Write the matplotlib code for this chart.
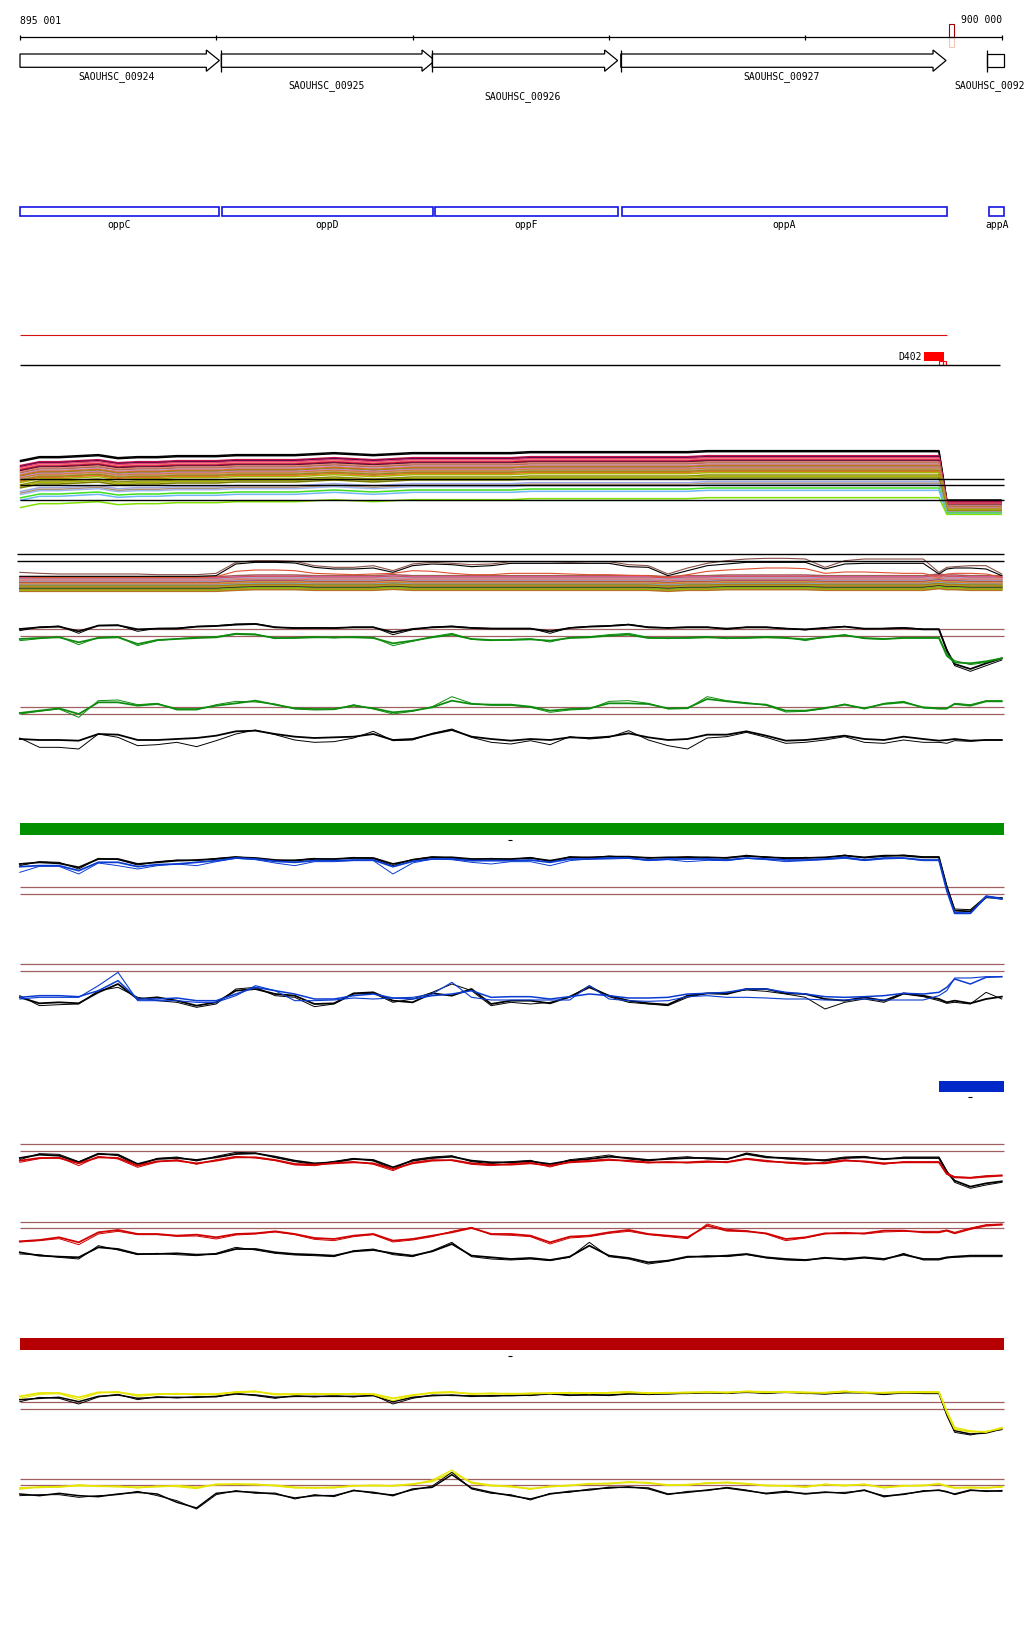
import numpy as np
import matplotlib.pyplot as plt
from matplotlib.patches import Rectangle, Polygon

W, H = 1024, 1640

# genomic window 895 001 - 900 000
VIEW_START, VIEW_END = 895001, 900010
BP_PER_PX = 5000 / 982
XLIM = (VIEW_START - 20 * BP_PER_PX, VIEW_START + 1004 * BP_PER_PX)

RULER_TICKS = [895001, 896000, 897000, 898000, 899000, 900000]
RULER_LEFT, RULER_RIGHT = '895 001', '900 000'
RULER_MARK = (899731, 899755)

GENE_NAMES = ['SAOUHSC_00924', 'SAOUHSC_00925', 'SAOUHSC_00926', 'SAOUHSC_00927', 'SAOUHSC_00928']
GENE_START = [895001, 896026, 897100, 898060, 899926]
GENE_END = [896016, 897114, 898044, 899716, 900010]
GENE_LABEL_X = [895495, 896560, 897560, 898880, 899757]

OPP_NAMES = ['oppC', 'oppD', 'oppF', 'oppA', 'appA']
OPP_START = [895002, 896027, 897112, 898064, 899937]
OPP_END = [896014, 897102, 898044, 899721, 900011]

D402_LABEL = 'D402'
D402_BOX = (899604, 899706)
D402_SMALL = [(899682, 899699), (899699, 899717)]
RED_LINE_END = 899720

# sampling positions of the profiles (bp)
POS = np.array([895000 + 100 * i for i in range(47)] +
               [899680, 899720, 899760, 899840, 899920, 900000])

# ---- bundle 1 (many samples) ----
B1_COLORS = ['#000000', '#000000', '#c8104a', '#5a0a40', '#e8407a', '#f07060', '#c8104a',
             '#4a1030', '#f08878', '#b07050', '#c890c8', '#e06a20', '#8a8a10', '#d080d0',
             '#d07830', '#c8a070', '#8c8c18', '#e07028', '#a8b400', '#8a8a10', '#a8b400',
             '#7a7a00', '#98a8e8', '#b09070', '#a0b8f0', '#40e020', '#70b8f8', '#80e000']
B1_PRE = [193, 190, 178, 175, 172, 168, 165, 162, 159, 156, 152, 149, 146, 143, 140, 137,
          134, 131, 127, 120, 116, 111, 100, 95, 91, 81, 74, 52]
B1_POST = [63, 60, 58, 55, 54, 52, 50, 49, 47, 46, 44, 42, 41, 40, 38, 37, 35, 34, 33, 31,
           30, 29, 27, 26, 25, 24, 22, 20]
B1_TREND = [-12, 0, 0, 3, 6, -3, 0, 0, 3, 3, 3, 6, 6, 6, 6, 9, 12, 9, 6, 9,
            12, 12, 12, 12, 12, 12, 15, 15, 15, 15, 15, 15, 15, 15, 15,
            18, 18, 18, 18, 18, 18, 18, 18, 18, 18, 18, 18,
            18, 18, 18, 18, 18, 18]
B1_HLINES = [125, 108, 62]

# ---- bundle 2 ----
B2_COLORS = ['#a06050', '#e040a0', '#d05040', '#98b0e8', '#f08070', '#c890c8', '#e07030',
             '#8ab0f0', '#c02050', '#a8a820', '#e88868', '#d07020', '#70b8f0', '#8a8a10',
             '#c06830', '#a0c000', '#b07840', '#201020', '#50d020', '#d07030', '#80e000',
             '#b87028']
B2_LEVELS = [52, 48, 46, 44, 42, 40, 38, 36, 34, 32, 30, 28, 26, 24, 22, 20, 18, 16, 14,
             12, 10, 8]
B2_TREND = [0, 0, 0, 0, 0, 0, 0, 0, 0, 0, 0, 3, 5, 5, 5, 3, 3, 3, 3, 6,
            3, 3, 3, 3, 3, 3, 3, 3, 3, 3, 3, 3, 3, 0, 3, 3, 5, 5, 5, 5,
            5, 3, 3, 3, 3, 3, 3, 8, 5, 5, 3, 3, 3]
B2_BLACK = [53, 53, 53, 53, 53, 53, 53, 53, 53, 53, 55, 90, 95, 95, 93, 80, 75, 75, 78, 65,
            85, 90, 88, 82, 85, 92, 92, 92, 92, 92, 92, 82, 80, 55, 70, 85, 90, 95, 95, 95,
            95, 75, 90, 92, 92, 92, 92, 60, 75, 78, 78, 75, 55]
B2_BROWN = [65, 62, 60, 60, 60, 60, 60, 58, 58, 58, 62, 95, 100, 100, 98, 85, 80, 80, 85, 70,
            90, 95, 92, 88, 90, 97, 97, 97, 95, 97, 97, 88, 85, 60, 78, 92, 100, 105, 107, 107,
            105, 80, 100, 105, 105, 105, 105, 65, 80, 82, 85, 85, 60]
B2_ORANGE = [52, 50, 50, 50, 50, 50, 50, 50, 50, 50, 52, 68, 72, 72, 70, 62, 60, 58, 60, 62,
             70, 68, 62, 58, 58, 62, 62, 62, 60, 58, 58, 56, 55, 50, 58, 68, 72, 75, 78, 78,
             76, 62, 66, 66, 64, 62, 62, 50, 60, 62, 62, 60, 50]
B2_HLINES = [119, 99]

# ---- green / black pair ----
G1_BLACK = [135, 140, 142, 128, 145, 146, 134, 136, 136, 142, 144, 148, 150, 140, 138, 138, 138, 140, 140, 125,
            135, 140, 142, 138, 136, 136, 136, 128, 138, 142, 144, 148, 140, 138, 140, 140, 136, 140, 140, 136,
            134, 138, 142, 136, 136, 138, 134, 134, 70, 30, 15, 32, 47]
G1_BLACK2 = [130, 141, 144, 122, 146, 147, 128, 137, 138, 143, 145, 150, 151, 141, 137, 139, 137, 141, 141, 118,
             133, 141, 144, 139, 137, 137, 137, 122, 139, 143, 145, 149, 141, 139, 141, 141, 134, 141, 141, 137,
             132, 139, 143, 135, 137, 139, 135, 135, 75, 25, 8, 25, 42]
G1_GREEN = [105, 108, 110, 95, 108, 110, 90, 102, 105, 108, 110, 120, 118, 108, 108, 110, 110, 110, 108, 92,
            100, 110, 118, 105, 102, 102, 104, 100, 108, 110, 115, 118, 108, 108, 108, 110, 108, 108, 110, 108,
            104, 110, 116, 108, 105, 108, 108, 108, 55, 35, 32, 38, 47]
G1_GREEN2 = [100, 106, 112, 88, 110, 112, 85, 100, 106, 110, 112, 122, 120, 106, 110, 112, 108, 112, 110, 85,
             98, 112, 122, 104, 100, 104, 106, 96, 110, 112, 118, 122, 110, 106, 110, 112, 106, 110, 112, 110,
             100, 112, 118, 106, 104, 110, 110, 110, 60, 40, 28, 35, 47]
G1_THR = [135, 113]

G2_GREEN = [123, 130, 137, 120, 155, 155, 145, 150, 135, 135, 145, 152, 160, 148, 137, 135, 135, 145, 137, 125,
            130, 140, 160, 150, 148, 148, 142, 130, 135, 137, 152, 152, 150, 137, 138, 165, 158, 152, 148, 130,
            130, 138, 148, 137, 150, 155, 140, 137, 137, 150, 145, 158, 158]
G2_GREEN2 = [120, 128, 135, 110, 160, 162, 148, 152, 132, 132, 148, 158, 156, 150, 135, 132, 133, 148, 135, 120,
             128, 142, 172, 152, 146, 146, 140, 125, 132, 135, 158, 160, 152, 135, 136, 172, 160, 154, 146, 126,
             128, 136, 150, 135, 152, 158, 138, 135, 135, 152, 148, 160, 160]
G2_BLACK = [45, 42, 42, 40, 60, 58, 42, 42, 45, 48, 55, 68, 70, 60, 52, 48, 50, 52, 60, 42,
            45, 60, 72, 52, 45, 40, 45, 42, 50, 48, 52, 62, 50, 42, 45, 58, 58, 68, 55, 40,
            42, 48, 55, 45, 42, 52, 45, 40, 42, 45, 40, 42, 42]
G2_BLACK2 = [48, 20, 20, 15, 60, 50, 25, 28, 35, 22, 40, 60, 72, 58, 42, 35, 37, 48, 68, 40,
             42, 62, 75, 50, 35, 30, 40, 28, 52, 45, 50, 70, 42, 25, 15, 48, 52, 65, 50, 32,
             35, 42, 52, 35, 32, 42, 35, 35, 32, 40, 38, 42, 42]
G2_THR = [140, 120]

# ---- blue / black pair ----
U1_BLACK = [165, 170, 167, 155, 180, 180, 165, 170, 175, 177, 180, 185, 183, 177, 175, 180, 180, 183, 183, 165,
            177, 185, 185, 180, 180, 180, 183, 175, 185, 185, 187, 187, 183, 185, 185, 185, 183, 190, 185, 183,
            183, 185, 190, 185, 190, 190, 185, 185, 95, 25, 23, 65, 63]
U1_BLACK2 = [160, 172, 170, 150, 182, 178, 162, 172, 177, 175, 182, 187, 181, 175, 177, 182, 178, 185, 181, 160,
             179, 187, 183, 178, 182, 178, 185, 172, 187, 183, 189, 185, 185, 183, 187, 183, 185, 188, 187, 181,
             185, 183, 192, 183, 188, 192, 187, 187, 100, 30, 28, 68, 60]
U1_BLUE = [157, 160, 160, 145, 170, 170, 157, 163, 165, 170, 175, 183, 180, 173, 170, 175, 175, 177, 177, 157,
           173, 180, 180, 175, 175, 175, 177, 170, 180, 180, 183, 183, 177, 180, 180, 180, 177, 183, 180, 177,
           177, 180, 185, 177, 183, 183, 177, 177, 85, 17, 17, 67, 60]
U1_BLUE2 = [140, 158, 158, 135, 168, 160, 150, 160, 165, 160, 172, 182, 178, 168, 160, 172, 172, 175, 175, 135,
            168, 180, 178, 170, 165, 172, 172, 160, 175, 180, 180, 182, 175, 178, 172, 176, 175, 182, 178, 172,
            175, 178, 182, 175, 180, 182, 175, 175, 90, 20, 18, 70, 62]
U1_THR = [96, 74]

U2_BLACK = [65, 47, 50, 47, 80, 105, 60, 65, 55, 40, 50, 85, 90, 75, 70, 45, 47, 77, 80, 55,
            50, 77, 70, 90, 45, 55, 55, 47, 67, 95, 70, 55, 47, 43, 70, 77, 75, 90, 90, 77,
            75, 60, 55, 65, 55, 77, 70, 60, 50, 55, 47, 60, 67]
U2_BLACK2 = [70, 40, 43, 45, 85, 95, 65, 55, 50, 35, 45, 90, 95, 70, 65, 37, 45, 75, 77, 50,
             60, 80, 105, 85, 40, 50, 45, 50, 65, 100, 67, 50, 45, 40, 65, 77, 80, 87, 83, 75,
             65, 30, 50, 60, 50, 75, 67, 55, 47, 50, 45, 80, 60]
U2_BLUE = [65, 70, 70, 67, 85, 115, 60, 60, 63, 55, 55, 75, 95, 85, 75, 60, 60, 70, 75, 63,
           60, 70, 75, 85, 65, 67, 67, 60, 67, 75, 70, 63, 63, 65, 75, 77, 80, 90, 90, 80,
           75, 67, 65, 67, 70, 77, 75, 80, 95, 120, 105, 125, 127]
U2_BLUE2 = [60, 65, 65, 65, 100, 140, 55, 55, 55, 50, 50, 70, 100, 85, 55, 55, 57, 63, 60, 63,
            65, 75, 110, 65, 57, 57, 57, 57, 57, 100, 60, 55, 53, 55, 67, 70, 65, 65, 63, 60,
            60, 57, 57, 60, 57, 57, 57, 70, 85, 123, 123, 127, 127]
U2_THR = [164, 144]

# ---- red / black pair ----
R1_BLACK = [123, 133, 130, 110, 135, 133, 105, 120, 123, 117, 125, 135, 137, 127, 115, 107, 110, 120, 117, 95,
            115, 123, 127, 115, 110, 110, 113, 105, 115, 120, 127, 123, 117, 120, 123, 123, 120, 135, 125, 123,
            120, 115, 123, 125, 120, 123, 123, 123, 80, 55, 37, 47, 53]
R1_BLACK2 = [118, 136, 134, 112, 137, 130, 100, 122, 126, 114, 128, 140, 138, 124, 112, 104, 113, 122, 114, 90,
             118, 126, 130, 112, 106, 112, 116, 100, 118, 124, 132, 120, 114, 123, 127, 120, 118, 138, 128, 120,
             116, 118, 126, 128, 118, 126, 126, 126, 85, 50, 32, 42, 50]
R1_RED = [115, 123, 123, 107, 125, 123, 100, 113, 115, 107, 115, 125, 125, 117, 105, 103, 107, 110, 107, 90,
          107, 115, 117, 107, 103, 103, 107, 100, 110, 113, 117, 115, 110, 110, 110, 113, 110, 120, 113, 110,
          107, 107, 115, 113, 107, 110, 110, 110, 75, 65, 63, 67, 70]
R1_RED2 = [110, 121, 125, 100, 128, 120, 95, 111, 118, 104, 118, 128, 123, 115, 102, 100, 109, 112, 104, 85,
           110, 118, 115, 104, 100, 106, 110, 96, 112, 116, 120, 112, 108, 112, 108, 110, 112, 122, 116, 108,
           104, 110, 118, 111, 104, 112, 112, 112, 78, 67, 65, 70, 72]
R1_THR = [164, 144]

R2_RED = [98, 102, 110, 95, 125, 132, 120, 120, 115, 118, 110, 120, 122, 128, 120, 108, 105, 115, 120, 100,
          105, 115, 125, 138, 120, 120, 115, 95, 112, 115, 125, 132, 120, 115, 110, 145, 130, 128, 122, 105,
          110, 122, 122, 122, 130, 130, 125, 125, 130, 122, 135, 145, 148]
R2_RED2 = [96, 100, 106, 88, 120, 128, 118, 118, 113, 114, 105, 117, 120, 126, 118, 104, 100, 112, 118, 96,
           102, 112, 128, 140, 118, 116, 112, 90, 108, 112, 122, 128, 118, 112, 106, 150, 134, 130, 120, 100,
           108, 120, 125, 120, 126, 128, 128, 128, 132, 125, 138, 148, 150]
R2_BLACK = [65, 55, 52, 50, 80, 75, 60, 60, 62, 58, 60, 75, 75, 65, 60, 58, 55, 68, 72, 62,
            55, 68, 90, 55, 50, 45, 48, 42, 52, 85, 55, 48, 35, 40, 52, 52, 55, 60, 50, 45,
            42, 48, 45, 50, 45, 58, 45, 45, 50, 52, 55, 55, 55]
R2_BLACK2 = [60, 58, 50, 45, 85, 72, 58, 62, 58, 55, 62, 80, 72, 62, 57, 55, 52, 70, 75, 58,
             52, 70, 95, 52, 45, 42, 45, 40, 50, 95, 52, 45, 30, 38, 50, 55, 52, 58, 48, 42,
             40, 50, 42, 48, 42, 62, 42, 42, 48, 50, 52, 52, 52]
R2_THR = [157, 137]

# ---- yellow / black pair ----
Y1_YELLOW = [128, 138, 138, 125, 140, 140, 132, 135, 135, 135, 135, 140, 142, 135, 135, 135, 135, 135, 135, 122,
             132, 138, 140, 136, 136, 136, 136, 138, 138, 138, 138, 140, 138, 138, 140, 140, 140, 142, 140, 142,
             140, 138, 142, 140, 138, 140, 140, 140, 80, 30, 22, 22, 32]
Y1_YELLOW2 = [122, 134, 136, 118, 138, 142, 128, 133, 137, 132, 133, 142, 144, 132, 133, 137, 133, 137, 133, 115,
              130, 140, 142, 134, 138, 134, 138, 136, 140, 136, 140, 142, 136, 140, 138, 142, 138, 144, 142, 140,
              138, 140, 144, 138, 140, 142, 142, 142, 85, 35, 25, 20, 35]
Y1_BLACK = [118, 122, 125, 112, 128, 132, 122, 125, 125, 125, 128, 135, 132, 125, 128, 128, 128, 128, 130, 112,
            125, 130, 132, 128, 130, 130, 132, 135, 132, 132, 132, 135, 135, 135, 138, 138, 138, 140, 138, 140,
            138, 135, 140, 138, 135, 138, 138, 138, 75, 25, 15, 18, 30]
Y1_BLACK2 = [112, 125, 122, 105, 126, 134, 118, 127, 123, 127, 126, 137, 130, 122, 130, 126, 130, 126, 132, 105,
             122, 132, 130, 130, 128, 132, 130, 137, 130, 134, 130, 137, 133, 137, 136, 140, 136, 142, 136, 142,
             136, 137, 138, 140, 133, 140, 136, 136, 70, 20, 12, 22, 28]
Y1_THR = [111, 90]

Y2_YELLOW = [78, 80, 82, 85, 84, 82, 80, 82, 85, 80, 88, 90, 88, 86, 80, 78, 80, 84, 86, 84,
             90, 98, 125, 95, 86, 82, 76, 82, 86, 90, 92, 95, 94, 86, 88, 92, 95, 90, 86, 84,
             82, 88, 86, 88, 80, 84, 86, 90, 84, 78, 80, 78, 82]
Y2_YELLOW2 = [74, 82, 80, 88, 82, 84, 78, 84, 82, 76, 90, 88, 90, 84, 78, 80, 78, 86, 84, 86,
              88, 102, 132, 92, 84, 84, 74, 84, 84, 92, 90, 97, 92, 88, 86, 94, 93, 92, 84, 86,
              80, 90, 84, 90, 78, 86, 84, 92, 82, 80, 78, 80, 80]
Y2_BLACK = [60, 55, 62, 55, 52, 60, 65, 60, 35, 18, 62, 68, 65, 60, 48, 55, 55, 70, 65, 55,
            75, 80, 118, 78, 65, 55, 45, 60, 68, 72, 80, 80, 78, 60, 65, 72, 78, 70, 62, 68,
            60, 66, 62, 72, 52, 60, 68, 72, 66, 60, 72, 68, 70]
Y2_BLACK2 = [55, 58, 58, 50, 55, 58, 68, 55, 40, 15, 58, 70, 62, 63, 45, 58, 52, 72, 62, 58,
             72, 84, 125, 75, 62, 58, 42, 62, 65, 75, 77, 82, 75, 58, 68, 70, 80, 72, 60, 65,
             62, 64, 65, 70, 55, 58, 70, 70, 68, 58, 70, 70, 68]
Y2_THR = [105, 87]

# bars between groups (bp range) and the small marks under them
GREEN_BAR = (VIEW_START, VIEW_END)
BLUE_BAR = (899678, VIEW_END)
RED_BAR = (VIEW_START, VIEW_END)
BAR_DASH_BP = [897496, 899838, 897496]

BROWN = '#a06060'
MONO = 'DejaVu Sans Mono'

fig = plt.figure(figsize=(W / 100, H / 100), dpi=100)
fig.patch.set_facecolor('white')

# layout axes in pixel rows
ax = fig.add_axes([0, 0, 1, 1])
ax.set_xlim(XLIM)
ax.set_ylim(H, 0)
ax.axis('off')


def track(top, bottom, ymax):
    a = fig.add_axes([0, 1 - bottom / H, 1, (bottom - top) / H])
    a.set_xlim(XLIM)
    a.set_ylim(0, ymax)
    a.axis('off')
    return a


# ruler
ax.hlines(38, VIEW_START, RULER_TICKS[-1], color='black', lw=0.9)
ax.vlines(RULER_TICKS, 35.5, 40.5, color='black', lw=0.9)
ax.text(VIEW_START, 21, RULER_LEFT, fontsize=7, family=MONO, va='center', ha='left')
ax.text(RULER_TICKS[-1], 20, RULER_RIGHT, fontsize=7, family=MONO, va='center', ha='right')
ax.add_patch(Rectangle((RULER_MARK[0], 25), RULER_MARK[1] - RULER_MARK[0], 13,
                       fill=False, ec='#a00000', lw=0.8))
ax.add_patch(Rectangle((RULER_MARK[0], 38), RULER_MARK[1] - RULER_MARK[0], 10,
                       fill=False, ec='#f4c8b8', lw=0.8))

# gene arrows
head = 13 * BP_PER_PX
for i, (s, e, name, lx) in enumerate(zip(GENE_START, GENE_END, GENE_NAMES, GENE_LABEL_X)):
    if e < VIEW_END:
        pts = [(s, 55), (e - head, 55), (e - head, 51), (e, 61.5), (e - head, 72.3),
               (e - head, 68.3), (s, 68.3)]
    else:
        pts = [(s, 55), (e, 55), (e, 68.3), (s, 68.3)]
    ax.add_patch(Polygon(pts, closed=True, fc='white', ec='black', lw=0.9, zorder=2 + i))
    if i > 0:
        ax.vlines(s, 51, 72.5, color='black', lw=0.9, zorder=10)
    ly = [76.5, 85.5, 97, 76.5, 85.5][i]
    ax.text(lx, ly, name, fontsize=7, family=MONO, va='center',
            ha='left' if i == 4 else 'center')

# operon boxes
for s, e, name in zip(OPP_START, OPP_END, OPP_NAMES):
    ax.add_patch(Rectangle((s, 207.5), e - s, 9.5, fc='white', ec='#1414e6', lw=1.2))
    ax.text((s + e) / 2, 224.5, name, fontsize=7, family=MONO, va='center', ha='center')

# red line, D402 feature, black line
ax.hlines(335.7, VIEW_START, RED_LINE_END, color='#d81010', lw=0.8)
ax.hlines(365.7, VIEW_START, VIEW_END - 4 * BP_PER_PX, color='black', lw=1.0)
ax.add_patch(Rectangle((D402_BOX[0], 353), D402_BOX[1] - D402_BOX[0], 9.3, fc='#ff0000', ec='none'))
for s, e in D402_SMALL:
    ax.add_patch(Rectangle((s, 362.3), e - s, 4, fill=False, ec='#ff0000', lw=0.8))
ax.text(D402_BOX[0] - 2 * BP_PER_PX, 357.5, D402_LABEL, fontsize=7, family=MONO,
        va='center', ha='right')

# colored bars and their marks
ax.add_patch(Rectangle((GREEN_BAR[0], 824), GREEN_BAR[1] - GREEN_BAR[0], 11.7, fc='#009000', ec='none'))
ax.add_patch(Rectangle((BLUE_BAR[0], 1082), BLUE_BAR[1] - BLUE_BAR[0], 10.7, fc='#0028c8', ec='none'))
ax.add_patch(Rectangle((RED_BAR[0], 1339), RED_BAR[1] - RED_BAR[0], 11.5, fc='#b40000', ec='none'))
for bp, y in zip(BAR_DASH_BP, [840.5, 1098, 1357]):
    ax.hlines(y, bp - 2 * BP_PER_PX, bp + 2 * BP_PER_PX, color='black', lw=0.8)

# bundle 1
a1 = track(447, 522, 225)
drop = POS >= 899720
for col, pre, post in zip(B1_COLORS, B1_PRE, B1_POST):
    y = np.where(drop, post, np.array(B1_TREND) + pre)
    a1.plot(POS, y, color=col, lw=1.1, solid_capstyle='butt')
a1.hlines(B1_HLINES, VIEW_START, VIEW_END, color='black', lw=1.0)

# bundle 2
a2 = track(550, 595, 135)
for col, lev in zip(B2_COLORS, B2_LEVELS):
    a2.plot(POS, np.array(B2_TREND) + lev, color=col, lw=1.1)
a2.plot(POS, B2_ORANGE, color='#e05030', lw=0.8)
a2.plot(POS, B2_BROWN, color='#8b5048', lw=0.8)
a2.plot(POS, B2_BLACK, color='black', lw=0.8)
a2.hlines(B2_HLINES, VIEW_START - 3 * BP_PER_PX, VIEW_END, color='black', lw=1.0)


def pair_panel(top, bottom, ymax, thr, series):
    a = track(top, bottom, ymax)
    a.hlines(thr, VIEW_START, VIEW_END, color=BROWN, lw=0.9, zorder=1)
    for vals, col, lw in series:
        a.plot(POS, vals, color=col, lw=lw, zorder=2)
    return a


GREEN = '#0e8c0e'
BLUE = '#0a3cd2'
RED = '#d00000'
YELLOW = '#e6e600'

pair_panel(615, 675, 180, G1_THR, [(G1_BLACK2, 'black', 0.7), (G1_BLACK, 'black', 1.3),
                                   (G1_GREEN2, GREEN, 0.7), (G1_GREEN, GREEN, 1.3)])
pair_panel(695, 755, 180, G2_THR, [(G2_GREEN2, GREEN, 0.7), (G2_GREEN, GREEN, 1.3),
                                   (G2_BLACK2, 'black', 0.7), (G2_BLACK, 'black', 1.3)])
pair_panel(845, 920, 225, U1_THR, [(U1_BLACK2, 'black', 0.7), (U1_BLACK, 'black', 1.3),
                                   (U1_BLUE2, BLUE, 0.7), (U1_BLUE, BLUE, 1.3)])
pair_panel(960, 1020, 180, U2_THR, [(U2_BLACK2, 'black', 0.7), (U2_BLACK, 'black', 1.3),
                                    (U2_BLUE2, BLUE, 0.8), (U2_BLUE, BLUE, 1.1)])
pair_panel(1140, 1200, 180, R1_THR, [(R1_BLACK2, 'black', 0.7), (R1_BLACK, 'black', 1.3),
                                     (R1_RED2, RED, 0.7), (R1_RED, RED, 1.3)])
pair_panel(1215, 1275, 180, R2_THR, [(R2_RED2, RED, 0.7), (R2_RED, RED, 1.3),
                                     (R2_BLACK2, 'black', 0.7), (R2_BLACK, 'black', 1.3)])
pair_panel(1380, 1440, 180, Y1_THR, [(Y1_BLACK2, 'black', 0.7), (Y1_BLACK, 'black', 1.1),
                                     (Y1_YELLOW2, YELLOW, 0.8), (Y1_YELLOW, YELLOW, 1.3)])
pair_panel(1455, 1515, 180, Y2_THR, [(Y2_YELLOW2, YELLOW, 0.8), (Y2_YELLOW, YELLOW, 1.3),
                                     (Y2_BLACK2, 'black', 0.7), (Y2_BLACK, 'black', 1.1)])

fig.savefig('out.png', dpi=100, facecolor='white')
